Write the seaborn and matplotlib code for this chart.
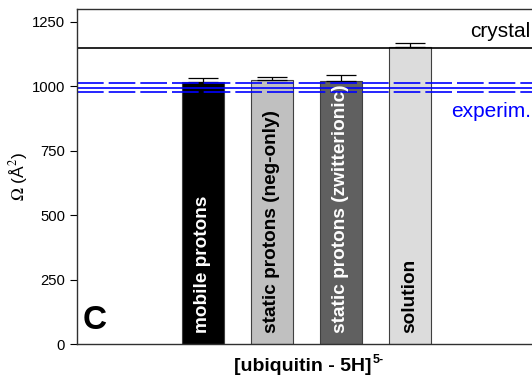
import pandas as pd
import matplotlib.pyplot as plt
import seaborn as sns

# bar data
labels = ['mobile protons', 'static protons (neg-only)', 'static protons (zwitterionic)', 'solution']
omega = [1017, 1023, 1022, 1152]
err_up = [17, 13, 23, 16]
bar_colors = ['#000000', '#c0c0c0', '#606060', '#dcdcdc']
text_colors = ['white', 'black', 'white', 'black']

crystal = 1147
experim = 993
experim_lo = 976
experim_hi = 1013

df = pd.DataFrame({'model': labels, 'omega': omega})

sns.set_style("white")
plt.rcParams['font.family'] = ['Liberation Sans', 'DejaVu Sans']
plt.rcParams['mathtext.fontset'] = 'stix'
plt.rcParams['text.color'] = 'black'
plt.rcParams['axes.labelcolor'] = 'black'
plt.rcParams['ytick.color'] = 'black'

fig = plt.figure(figsize=(5.32, 3.83), dpi=100)
ax = fig.add_axes([0.1447, 0.1018, 0.955, 0.8747])

sns.barplot(data=df, x='model', y='omega', hue='model', palette=bar_colors,
            width=0.61, edgecolor='#404040', linewidth=0.8, legend=False, ax=ax)
ax.errorbar(range(len(omega)), omega, yerr=[[0] * len(omega), err_up], fmt='none',
            ecolor='black', elinewidth=0.9, capsize=11, capthick=0.9, zorder=1)

# reference lines
ax.axhline(crystal, color='black', lw=1.2)
ax.axhline(experim, color='blue', lw=1.2)
ax.axhline(experim_lo, color='blue', lw=1.2, dashes=(16, 3))
ax.axhline(experim_hi, color='blue', lw=1.2, dashes=(16, 3))
ax.text(4.75, 1212, 'crystal', ha='right', va='center', fontsize=15)
ax.text(3.60, 902, 'experim.', ha='left', va='center', fontsize=15, color='blue')

# labels inside bars
for i, (lab, tc) in enumerate(zip(labels, text_colors)):
    ax.text(i, 43, lab, rotation=90, ha='center', va='bottom', color=tc,
            fontsize=13.7, fontweight='bold')

ax.text(0.012, 0.025, 'C', transform=ax.transAxes, fontsize=24, fontweight='bold',
        ha='left', va='bottom')

ax.set_xlim(-1.82, 5.54)
ax.set_ylim(0, 1300)
ax.set_yticks([0, 250, 500, 750, 1000, 1250])
ax.set_xticks([])
ax.set_xlabel('')
ax.set_ylabel('$\\Omega$ (Å$^2$)', fontsize=12.5, labelpad=1)
ax.tick_params(axis='y', left=True, direction='out', length=5, labelsize=10.7, width=0.8)

xl = ax.text(1.45, -0.068, '[ubiquitin - 5H]', transform=ax.get_xaxis_transform(),
             ha='center', va='center', fontsize=14, fontweight='bold')
ax.annotate('5-', xy=(1, 1), xycoords=xl, xytext=(1, 3), textcoords='offset points',
            ha='left', va='top', fontsize=9, fontweight='bold')

for s in ['left', 'bottom', 'top']:
    ax.spines[s].set_color('#303030')
    ax.spines[s].set_linewidth(1.0)
ax.spines['right'].set_visible(False)

plt.savefig('out.png', dpi=100)
